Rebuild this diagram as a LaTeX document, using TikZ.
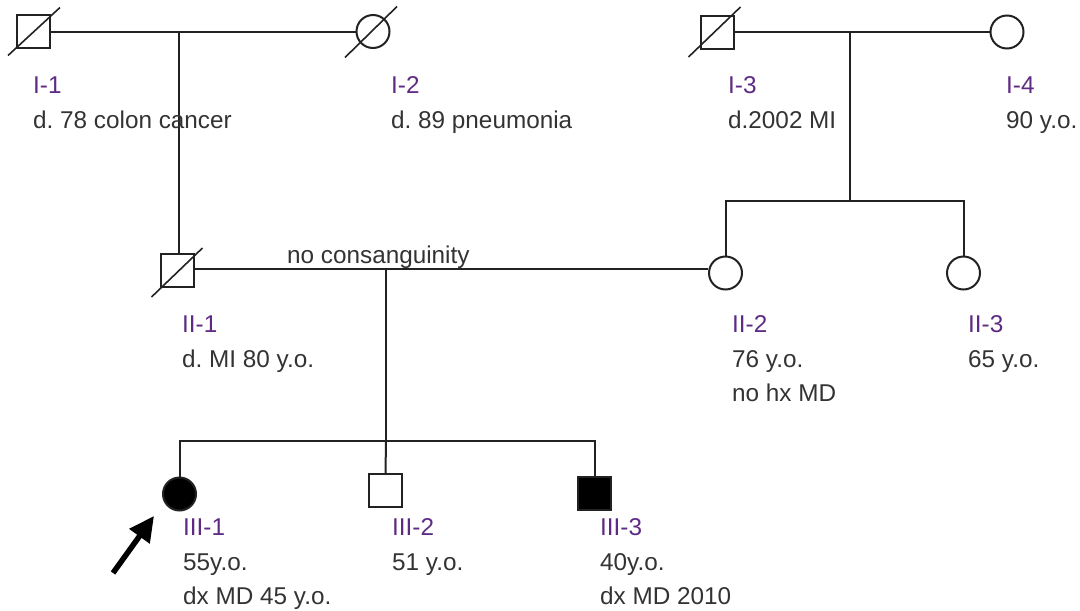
\documentclass[tikz,border=0pt]{standalone}
\usepackage{fontspec}
\setmainfont{Liberation Sans}
\usetikzlibrary{calc,arrows.meta}
\definecolor{idcol}{HTML}{5E2A84}
\definecolor{txtcol}{HTML}{333333}
\definecolor{linecol}{HTML}{222222}
\frenchspacing
\begin{document}
\begin{tikzpicture}[x=1pt,y=-1pt,
  lw/.style={line width=2pt,draw=linecol},
  male/.style={lw,rectangle,minimum size=33pt,inner sep=0pt,fill=white},
  female/.style={lw,circle,minimum size=33pt,inner sep=0pt,fill=white},
  affected/.style={fill=black},
  deadslash/.style={lw,line width=1.6pt},
  conn/.style={lw},
  idlab/.style={anchor=base west,inner sep=0pt,text=idcol,font=\fontsize{24.3}{28}\selectfont},
  desc/.style={anchor=base west,inner sep=0pt,text=txtcol,font=\fontsize{24.3}{28}\selectfont},
  probarrow/.style={line width=5.5pt,-{Triangle[length=25pt,width=24pt]}}
]
\useasboundingbox (0,0) rectangle (1080,611);
% Generation I
\node[male] (I1) at (33,31.5) {};
\node[female] (I2) at (373,31.5) {};
\node[male] (I3) at (717.5,32) {};
\node[female] (I4) at (1007,32) {};
\draw[deadslash] ($(I1)+(-25,24)$) -- ($(I1)+(27,-24)$);
\draw[deadslash] ($(I2)+(-28,26)$) -- ($(I2)+(24,-25)$);
\draw[deadslash] ($(I3)+(-29,25)$) -- ($(I3)+(23,-25)$);
% Generation II
\node[male] (II1) at (177.5,270) {};
\node[female] (II2) at (725.5,273) {};
\node[female] (II3) at (963.5,273) {};
\draw[deadslash] ($(II1)+(-26,27)$) -- ($(II1)+(25,-22)$);
% Generation III
\node[female,affected] (III1) at (179.5,494) {};
\node[male] (III2) at (385.5,490.5) {};
\node[male,affected] (III3) at (594.5,493) {};
% mating/descent coordinates
\coordinate (m1) at (179,31.5);
\coordinate (m2) at (850,32);
\coordinate (s2) at (850,201);
\coordinate (m3) at (386,269);
\coordinate (s3) at (386,441);
% connectors
\draw[conn] (I1.east) -- (I2.west);
\draw[conn] (I3.east) -- (I4.west);
\draw[conn] (m1) -- (m1 |- II1.north);
\draw[conn] (m2) -- (s2);
\draw[conn] (II2.north) -- (II2.north |- s2) -- (II3.north |- s2) -- (II3.north);
\draw[conn] (II1.east |- m3) -- (II2.west |- m3);
\draw[conn] (m3) -- (s3);
\draw[conn] (III1.north) -- (III1.north |- s3) -- (III3.north |- s3) -- (III3.north);
\draw[conn] (s3) -- (III2.north);
% labels
\node[idlab] (lI1) at (33,93) {I-1};
\node[desc] (dI1) at (33,128) {d. 78 colon cancer};
\node[idlab] (lI2) at (391,93) {I-2};
\node[desc] (dI2) at (391,128) {d. 89 pneumonia};
\node[idlab] (lI3) at (728,93) {I-3};
\node[desc] (dI3) at (728,128) {d.2002 MI};
\node[idlab] (lI4) at (1006,93) {I-4};
\node[desc] (dI4) at (1006,128) {90 y.o.};
\node[desc] (nocons) at (287,263) {no consanguinity};
\node[idlab] (lII1) at (182,332) {II-1};
\node[desc] (dII1) at (182,367) {d. MI 80 y.o.};
\node[idlab] (lII2) at (732,332) {II-2};
\node[desc] (dII2a) at (732,367) {76 y.o.};
\node[desc] (dII2b) at (732,401) {no hx MD};
\node[idlab] (lII3) at (968,332) {II-3};
\node[desc] (dII3) at (968,367) {65 y.o.};
\node[idlab] (lIII1) at (183,535) {III-1};
\node[desc] (dIII1a) at (183,570) {55y.o.};
\node[desc] (dIII1b) at (183,604) {dx MD 45 y.o.};
\node[idlab] (lIII2) at (392,535) {III-2};
\node[desc] (dIII2) at (392,570) {51 y.o.};
\node[idlab] (lIII3) at (600,535) {III-3};
\node[desc] (dIII3a) at (600,570) {40y.o.};
\node[desc] (dIII3b) at (600,604) {dx MD 2010};
% proband arrow
\coordinate (arrowtail) at (113,573);
\coordinate (arrowtip) at (154,516);
\draw[probarrow] (arrowtail) -- (arrowtip);
\end{tikzpicture}
\end{document}
